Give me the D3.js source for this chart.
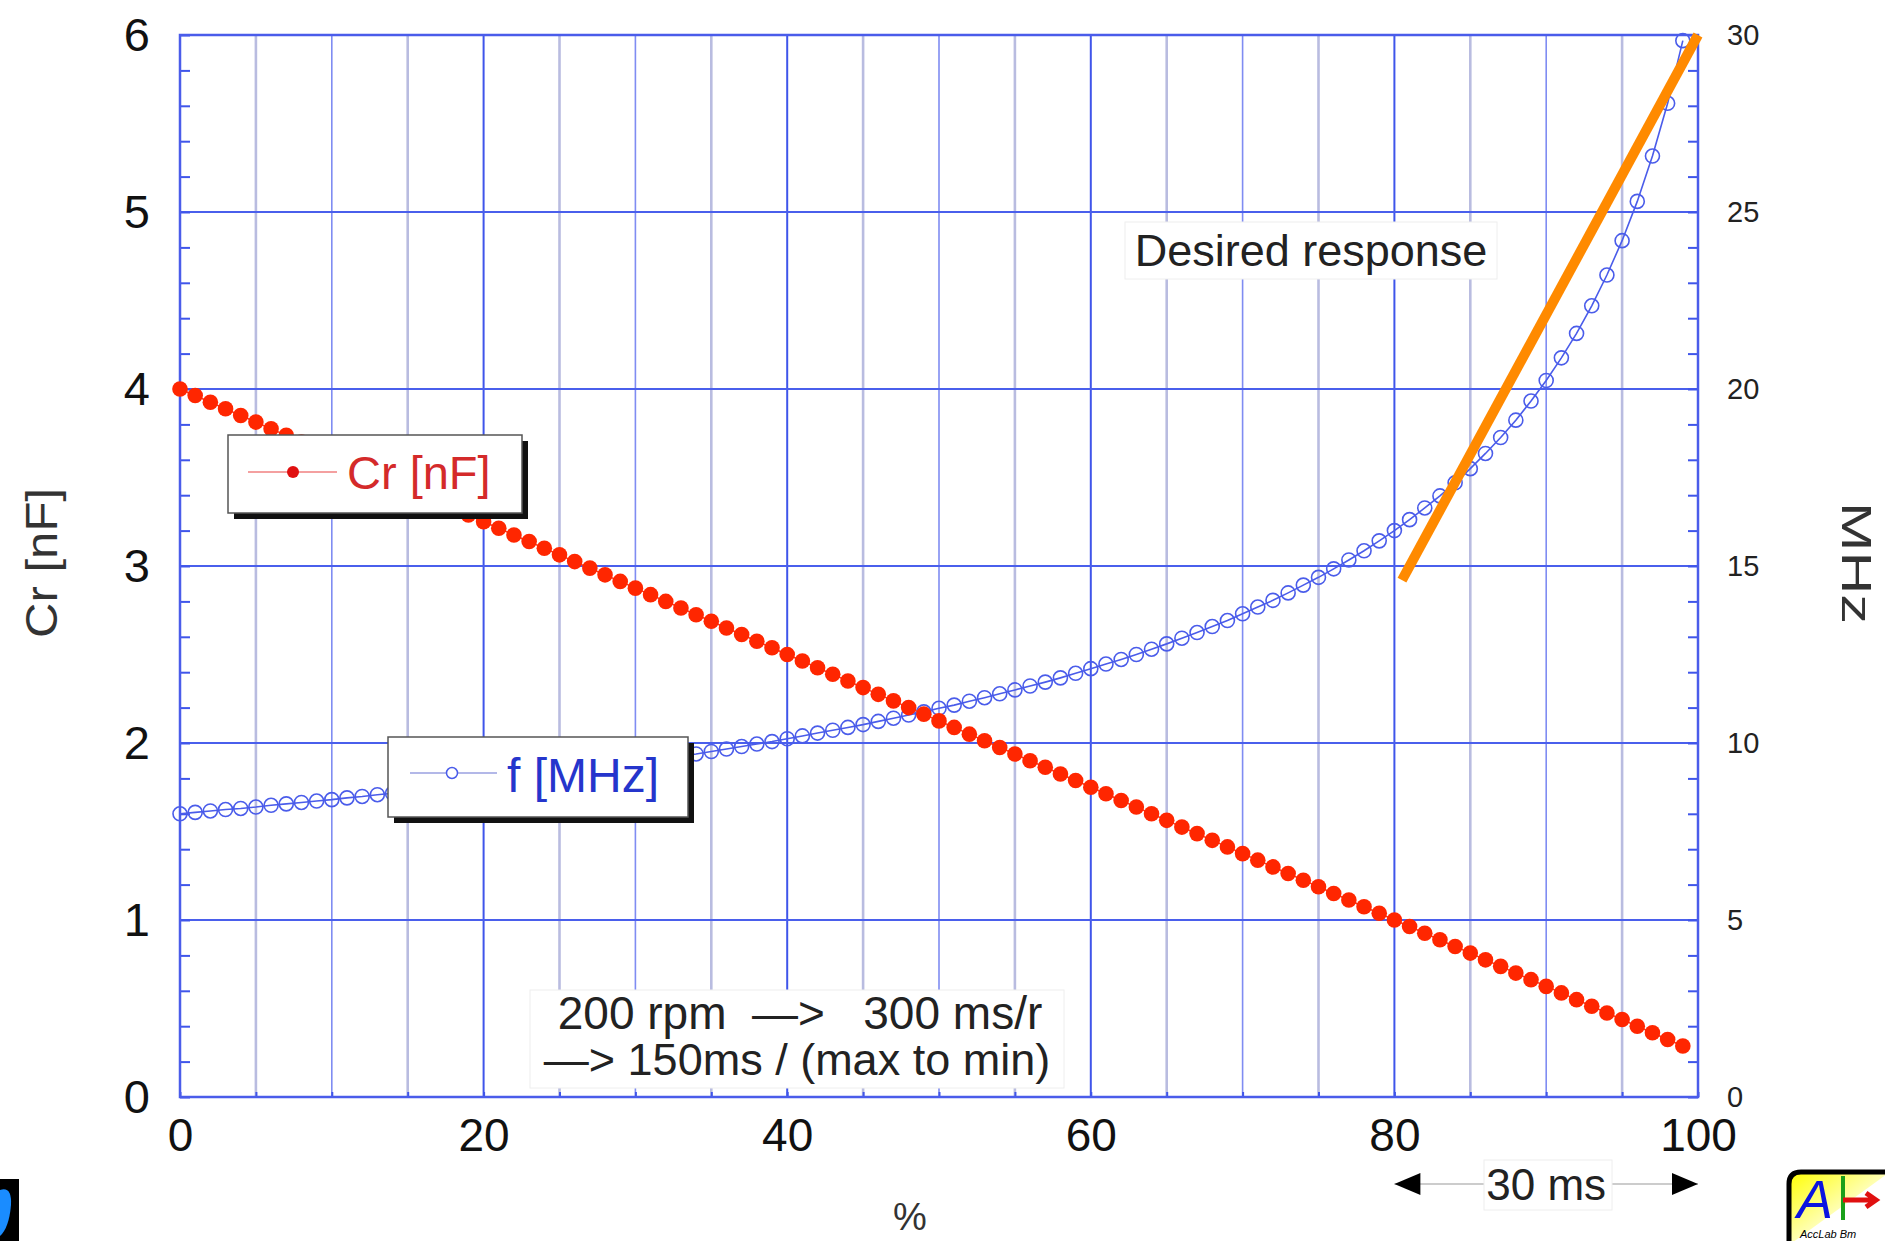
<!DOCTYPE html>
<html>
<head>
<meta charset="utf-8">
<script src="https://cdn.jsdelivr.net/npm/d3@7"></script>
<style>
  body { margin: 0; background: #fff; }
  svg text { font-family: "Liberation Sans", Arial, Helvetica, sans-serif; }
</style>
</head>
<body>
<div id="chart"></div>
<script>
// x positions (%) of the measured points
var pct = [0,1,2,3,4,5,6,7,8,9,10,11,12,13,14,15,16,17,18,19,20,21,22,23,24,25,26,27,28,29,
  30,31,32,33,34,35,36,37,38,39,40,41,42,43,44,45,46,47,48,49,50,51,52,53,54,55,56,57,58,59,
  60,61,62,63,64,65,66,67,68,69,70,71,72,73,74,75,76,77,78,79,80,81,82,83,84,85,86,87,88,89,
  90,91,92,93,94,95,96,97,98,99];

// Cr [nF], left axis
var crValues = [4.000,3.963,3.925,3.888,3.850,3.813,3.775,3.738,3.700,3.663,
  3.625,3.588,3.550,3.513,3.475,3.438,3.400,3.363,3.325,3.288,
  3.250,3.213,3.175,3.138,3.100,3.063,3.025,2.988,2.950,2.913,
  2.875,2.838,2.800,2.763,2.725,2.688,2.650,2.613,2.575,2.538,
  2.500,2.463,2.425,2.388,2.350,2.313,2.275,2.238,2.200,2.163,
  2.125,2.088,2.050,2.013,1.975,1.938,1.900,1.863,1.825,1.788,
  1.750,1.713,1.675,1.638,1.600,1.563,1.525,1.488,1.450,1.413,
  1.375,1.338,1.300,1.263,1.225,1.188,1.150,1.113,1.075,1.038,
  1.000,0.963,0.925,0.888,0.850,0.813,0.775,0.738,0.700,0.663,
  0.625,0.588,0.550,0.513,0.475,0.438,0.400,0.363,0.325,0.288];

// f [MHz], right axis
var fValues = [8.00,8.04,8.08,8.12,8.15,8.19,8.24,8.28,8.32,8.36,
  8.40,8.45,8.49,8.54,8.58,8.63,8.68,8.73,8.78,8.82,
  8.88,8.93,8.98,9.03,9.09,9.14,9.20,9.26,9.32,9.38,
  9.44,9.50,9.56,9.63,9.69,9.76,9.83,9.90,9.97,10.04,
  10.12,10.20,10.28,10.36,10.44,10.52,10.61,10.70,10.79,10.88,
  10.98,11.07,11.18,11.28,11.39,11.50,11.61,11.72,11.84,11.97,
  12.10,12.23,12.36,12.50,12.65,12.80,12.96,13.12,13.29,13.46,
  13.65,13.84,14.03,14.24,14.46,14.68,14.92,15.17,15.43,15.71,
  16.00,16.31,16.64,16.98,17.35,17.75,18.18,18.63,19.12,19.66,
  20.24,20.88,21.57,22.35,23.22,24.19,25.30,26.58,28.07,29.84];

// desired response (orange line), in % and MHz
var desiredX = [80.5, 100];
var desiredF = [14.6, 30];

// the "30 ms" span
var spanX = [80, 100];

var xTicks = [0, 20, 40, 60, 80, 100];
var leftTicks = [0, 1, 2, 3, 4, 5, 6];
var rightTicks = [0, 5, 10, 15, 20, 25, 30];

var W = 1885, H = 1241;
var plotLeft = 180, plotRight = 1698, plotTop = 35, plotBottom = 1097;

var svg = d3.select("#chart").append("svg")
    .attr("width", W)
    .attr("height", H);

var x = d3.scaleLinear().domain([0, 100]).range([plotLeft, plotRight]);
var yL = d3.scaleLinear().domain([0, 6]).range([plotBottom, plotTop]);
var yR = d3.scaleLinear().domain([0, 30]).range([plotBottom, plotTop]);

// grid
var grid = svg.append("g");
d3.range(5, 100, 5).forEach(function(v) {
    var col, w;
    if (v % 20 == 0) { col = "#3f55ea"; w = 2; }
    else if (v % 10 == 0) { col = "#7f8cf2"; w = 1.6; }
    else { col = "#b9bce0"; w = 2.6; }
    grid.append("line")
        .attr("x1", x(v)).attr("x2", x(v))
        .attr("y1", plotTop).attr("y2", plotBottom)
        .attr("stroke", col).attr("stroke-width", w);
});
d3.range(1, 6).forEach(function(v) {
    grid.append("line")
        .attr("x1", plotLeft).attr("x2", plotRight)
        .attr("y1", yL(v)).attr("y2", yL(v))
        .attr("stroke", "#4a5fec").attr("stroke-width", 2);
});

// minor ticks (inside)
function tickStyle(g) {
    g.select(".domain").remove();
    g.selectAll("line").attr("stroke", "#3f55ea").attr("stroke-width", 2);
}

svg.append("g")
    .attr("transform", "translate(" + plotLeft + ",0)")
    .call(d3.axisLeft(yL).tickValues(d3.range(0, 6.001, 0.2)).tickSize(-10).tickFormat(""))
    .call(tickStyle);

svg.append("g")
    .attr("transform", "translate(" + plotRight + ",0)")
    .call(d3.axisRight(yR).tickValues(d3.range(0, 30.001, 1)).tickSize(-10).tickFormat(""))
    .call(tickStyle);

svg.append("g")
    .attr("transform", "translate(0," + plotBottom + ")")
    .call(d3.axisBottom(x).tickValues(d3.range(0, 100.001, 5)).tickSize(-5).tickFormat(""))
    .call(tickStyle);

// frame
svg.append("rect")
    .attr("x", plotLeft).attr("y", plotTop)
    .attr("width", plotRight - plotLeft).attr("height", plotBottom - plotTop)
    .attr("fill", "none")
    .attr("stroke", "#4a5cea")
    .attr("stroke-width", 2.5);

// tick labels
svg.append("g")
    .attr("transform", "translate(" + plotLeft + ",0)")
    .call(d3.axisLeft(yL).tickValues(leftTicks).tickSize(0).tickPadding(30).tickFormat(d3.format("d")))
    .call(function(g) {
        g.select(".domain").remove();
        g.selectAll("text").attr("font-size", 47).attr("fill", "#111").attr("font-family", null);
    });

svg.append("g")
    .attr("transform", "translate(" + plotRight + ",0)")
    .call(d3.axisRight(yR).tickValues(rightTicks).tickSize(0).tickPadding(29))
    .call(function(g) {
        g.select(".domain").remove();
        g.selectAll("text").attr("font-size", 29).attr("fill", "#222").attr("font-family", null);
    });

svg.append("g")
    .attr("transform", "translate(0," + plotBottom + ")")
    .call(d3.axisBottom(x).tickValues(xTicks).tickSize(0).tickPadding(21))
    .call(function(g) {
        g.select(".domain").remove();
        g.selectAll("text").attr("font-size", 46).attr("fill", "#111").attr("font-family", null);
    });

// axis titles
svg.append("text")
    .attr("x", 910).attr("y", 1230)
    .attr("text-anchor", "middle")
    .attr("font-size", 38)
    .attr("fill", "#333")
    .text("%");

svg.append("text")
    .attr("transform", "translate(57,563) rotate(-90)")
    .attr("text-anchor", "middle")
    .attr("font-size", 44)
    .attr("textLength", 150)
    .attr("lengthAdjust", "spacingAndGlyphs")
    .attr("fill", "#333")
    .text("Cr [nF]");

svg.append("text")
    .attr("transform", "translate(1842,563) rotate(90)")
    .attr("text-anchor", "middle")
    .attr("font-size", 42)
    .attr("textLength", 122)
    .attr("lengthAdjust", "spacingAndGlyphs")
    .attr("fill", "#333")
    .text("MHz");

// f series
var fLine = d3.line()
    .x(function(d, i) { return x(pct[i]); })
    .y(function(d) { return yR(d); });

svg.append("path")
    .datum(fValues)
    .attr("d", fLine)
    .attr("fill", "none")
    .attr("stroke", "#4a5cea")
    .attr("stroke-width", 1.6);

svg.selectAll(".fdot")
    .data(fValues)
    .enter().append("circle")
    .attr("class", "fdot")
    .attr("cx", function(d, i) { return x(pct[i]); })
    .attr("cy", function(d) { return yR(d); })
    .attr("r", 7)
    .attr("fill", "none")
    .attr("stroke", "#4a5cea")
    .attr("stroke-width", 1.6);

// Cr series
var crLine = d3.line()
    .x(function(d, i) { return x(pct[i]); })
    .y(function(d) { return yL(d); });

svg.append("path")
    .datum(crValues)
    .attr("d", crLine)
    .attr("fill", "none")
    .attr("stroke", "#ff3a20")
    .attr("stroke-width", 1.5);

svg.selectAll(".crdot")
    .data(crValues)
    .enter().append("circle")
    .attr("class", "crdot")
    .attr("cx", function(d, i) { return x(pct[i]); })
    .attr("cy", function(d) { return yL(d); })
    .attr("r", 7.8)
    .attr("fill", "#ff2600");

// desired response
svg.append("line")
    .attr("x1", x(desiredX[0])).attr("y1", yR(desiredF[0]))
    .attr("x2", x(desiredX[1])).attr("y2", yR(desiredF[1]))
    .attr("stroke", "#ff8a00")
    .attr("stroke-width", 10);

// legends
function legendBox(bx, by, bw, bh) {
    svg.append("rect")
        .attr("x", bx + 6).attr("y", by + 6)
        .attr("width", bw).attr("height", bh)
        .attr("fill", "#111");
    svg.append("rect")
        .attr("x", bx).attr("y", by)
        .attr("width", bw).attr("height", bh)
        .attr("fill", "#fff")
        .attr("stroke", "#555")
        .attr("stroke-width", 1.5);
}

legendBox(228, 435, 294, 78);
svg.append("line")
    .attr("x1", 248).attr("x2", 337).attr("y1", 472).attr("y2", 472)
    .attr("stroke", "#f08080").attr("stroke-width", 1.5);
svg.append("circle")
    .attr("cx", 293).attr("cy", 472).attr("r", 6)
    .attr("fill", "#e01010");
svg.append("text")
    .attr("x", 347).attr("y", 489)
    .attr("font-size", 47)
    .attr("fill", "#d42a2a")
    .text("Cr [nF]");

legendBox(388, 737, 300, 80);
svg.append("line")
    .attr("x1", 410).attr("x2", 497).attr("y1", 773).attr("y2", 773)
    .attr("stroke", "#9aa0e0").attr("stroke-width", 1.5);
svg.append("circle")
    .attr("cx", 452).attr("cy", 773).attr("r", 5.5)
    .attr("fill", "#fff")
    .attr("stroke", "#4a5cea").attr("stroke-width", 1.5);
svg.append("text")
    .attr("x", 507).attr("y", 792)
    .attr("font-size", 48)
    .attr("fill", "#2535cc")
    .text("f [MHz]");

// desired response label
svg.append("rect")
    .attr("x", 1125).attr("y", 222)
    .attr("width", 372).attr("height", 57)
    .attr("fill", "#fff")
    .attr("stroke", "#eee");
svg.append("text")
    .attr("x", 1311).attr("y", 266)
    .attr("text-anchor", "middle")
    .attr("font-size", 45)
    .attr("fill", "#222")
    .text("Desired response");

// note box
svg.append("rect")
    .attr("x", 530).attr("y", 990)
    .attr("width", 534).attr("height", 98)
    .attr("fill", "#fff")
    .attr("stroke", "#eee");
svg.append("text")
    .attr("x", 800).attr("y", 1029)
    .attr("text-anchor", "middle")
    .attr("font-size", 46)
    .attr("fill", "#222")
    .style("white-space", "pre")
    .text("200 rpm  \u2014>   300 ms/r");
svg.append("text")
    .attr("x", 797).attr("y", 1075)
    .attr("text-anchor", "middle")
    .attr("font-size", 45)
    .attr("fill", "#222")
    .style("white-space", "pre")
    .text("\u2014> 150ms / (max to min)");

// 30 ms span arrow
var ay = 1184;
svg.append("line")
    .attr("x1", x(spanX[0])).attr("x2", x(spanX[1]))
    .attr("y1", ay).attr("y2", ay)
    .attr("stroke", "#bbb").attr("stroke-width", 1.5);
svg.append("path")
    .attr("d", "M" + x(spanX[0]) + "," + ay + "l26,-11v22z")
    .attr("fill", "#000");
svg.append("path")
    .attr("d", "M" + x(spanX[1]) + "," + ay + "l-26,-11v22z")
    .attr("fill", "#000");
svg.append("rect")
    .attr("x", 1484).attr("y", 1160)
    .attr("width", 128).attr("height", 50)
    .attr("fill", "#fff")
    .attr("stroke", "#eee");
svg.append("text")
    .attr("x", x((spanX[0] + spanX[1]) / 2)).attr("y", 1200)
    .attr("text-anchor", "middle")
    .attr("font-size", 44)
    .attr("fill", "#222")
    .text("30 ms");

// logo, bottom right (cut off)
var grad = svg.append("defs").append("linearGradient")
    .attr("id", "logoGrad")
    .attr("x1", "0").attr("y1", "0").attr("x2", "1").attr("y2", "1");
grad.append("stop").attr("offset", "0").attr("stop-color", "#ffff00");
grad.append("stop").attr("offset", "0.6").attr("stop-color", "#ffffd8");
grad.append("stop").attr("offset", "1").attr("stop-color", "#ffffff");

svg.append("path")
    .attr("d", "M1789,1245 V1184 Q1789,1172 1801,1172 H1890")
    .attr("fill", "url(#logoGrad)")
    .attr("stroke", "#000")
    .attr("stroke-width", 5);
svg.append("line")
    .attr("x1", 1843).attr("x2", 1843).attr("y1", 1176).attr("y2", 1220)
    .attr("stroke", "#1aa01a").attr("stroke-width", 4);
svg.append("path")
    .attr("d", "M1843,1200 H1874 M1866,1193 L1876,1200 L1866,1207")
    .attr("stroke", "#e01010").attr("stroke-width", 5).attr("fill", "none");
svg.append("text")
    .attr("x", 1797).attr("y", 1218)
    .attr("font-family", "'Liberation Serif', serif")
    .attr("font-style", "italic")
    .attr("font-size", 54)
    .attr("fill", "#0a14e0")
    .text("A");
svg.append("text")
    .attr("x", 1800).attr("y", 1238)
    .attr("font-family", "'Liberation Serif', serif")
    .attr("font-style", "italic")
    .attr("font-size", 11)
    .attr("fill", "#000")
    .text("AccLab  Bm");

// icon, bottom left (cut off)
svg.append("rect")
    .attr("x", 0).attr("y", 1179)
    .attr("width", 19).attr("height", 62)
    .attr("fill", "#000");
svg.append("path")
    .attr("d", "M0,1190 Q12,1186 11,1205 Q9,1228 0,1236 Z")
    .attr("fill", "#1a8cff");
</script>
</body>
</html>
